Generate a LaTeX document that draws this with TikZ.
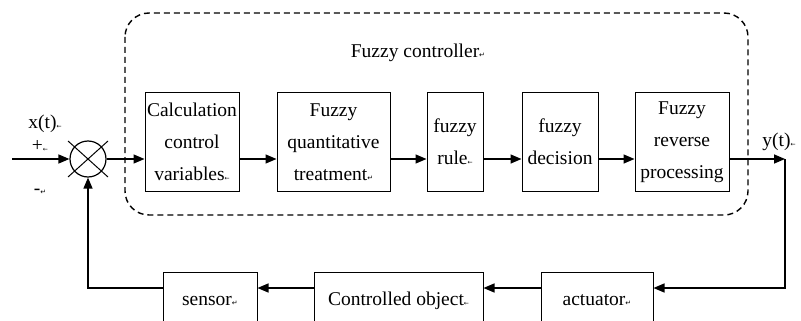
\documentclass[tikz,border=0pt]{standalone}
\usepackage{fontspec}
\setmainfont{Liberation Serif}
\newfontfamily\txtf{Liberation Serif}
\newfontfamily\symf{DejaVu Sans}
\usetikzlibrary{arrows.meta}
\newcommand{\rmk}{{\symf\fontsize{7}{7}\selectfont ↵}}
\newcommand{\lmk}{{\symf\fontsize{6}{6}\selectfont ←}}
\tikzset{
  blk/.style={draw, line width=1pt, inner sep=0pt, align=center,
    font=\txtf\fontsize{19.5}{32}\selectfont, minimum height=98pt},
  lowblk/.style={draw, line width=1pt, inner sep=0pt, anchor=north,
    font=\txtf\fontsize{19.5}{22}\selectfont, minimum height=56pt},
  arr/.style={line width=1.5pt, -{Triangle[length=11pt,width=9pt]}},
  dashbox/.style={line width=1.4pt, dash pattern=on 6pt off 4pt, rounded corners=24pt},
  lbl/.style={font=\txtf\fontsize{19.5}{22}\selectfont, inner sep=0pt}
}
\begin{document}
\begin{tikzpicture}[x=1pt,y=-1pt]
\useasboundingbox (0,0) rectangle (801,321);
\clip (0,0) rectangle (801,321);
\fill[white] (0,0) rectangle (801,321);
% dashed controller frame
\draw[dashbox] (125,13) rectangle (748,215);
\node[lbl] (fc) at (418,53) {Fuzzy controller\rmk};
% main path coordinates
\coordinate (main) at (0,159);
\coordinate (fb) at (0,288);
% blocks
\node[blk, minimum width=94pt] (b1) at (192,142) {Calculation\\control\\variables\lmk};
\node[blk, minimum width=113pt] (b2) at (333.5,142) {Fuzzy\\quantitative\\treatment\rmk};
\node[blk, minimum width=56pt] (b3) at (455,142) {fuzzy\\rule\lmk};
\node[blk, minimum width=76pt] (b4) at (560,142) {fuzzy\\decision};
\node[blk, minimum width=94pt] (b5) at (682,142) {Fuzzy\\reverse\\processing};
% summing junction
\node[draw, circle, line width=1.2pt, minimum size=36pt, inner sep=0pt] (sum) at (88,159) {};
\draw[line width=1pt] (68,141) -- (108,177);
\draw[line width=1pt] (68,177) -- (108,141);
% bottom blocks
\node[lowblk, minimum width=94pt] (sen) at (210,272) {sensor\rmk};
\node[lowblk, minimum width=169pt] (obj) at (398.5,272) {Controlled object\lmk};
\node[lowblk, minimum width=112pt] (act) at (597,272) {actuator\rmk};
% labels
\node[lbl] (xt) at (45,124) {x(t)\lmk};
\node[lbl] (plus) at (40,146) {+\lmk};
\node[lbl] (minus) at (40,192) {-\rmk};
\node[lbl] (yt) at (779,142) {y(t)\lmk};
% connectors
\coordinate (in) at (12,159);
\coordinate (out) at (785,159);
\draw[arr] (in) -- (sum.west);
\draw[arr] (sum.east) -- (b1.west |- main);
\draw[arr] (b1.east |- main) -- (b2.west |- main);
\draw[arr] (b2.east |- main) -- (b3.west |- main);
\draw[arr] (b3.east |- main) -- (b4.west |- main);
\draw[arr] (b4.east |- main) -- (b5.west |- main);
\draw[arr] (b5.east |- main) -- (out);
\draw[arr] (out) |- (act.east |- fb);
\draw[arr] (act.west |- fb) -- (obj.east |- fb);
\draw[arr] (obj.west |- fb) -- (sen.east |- fb);
\draw[arr] (sen.west |- fb) -| (sum.south);
\end{tikzpicture}
\end{document}
